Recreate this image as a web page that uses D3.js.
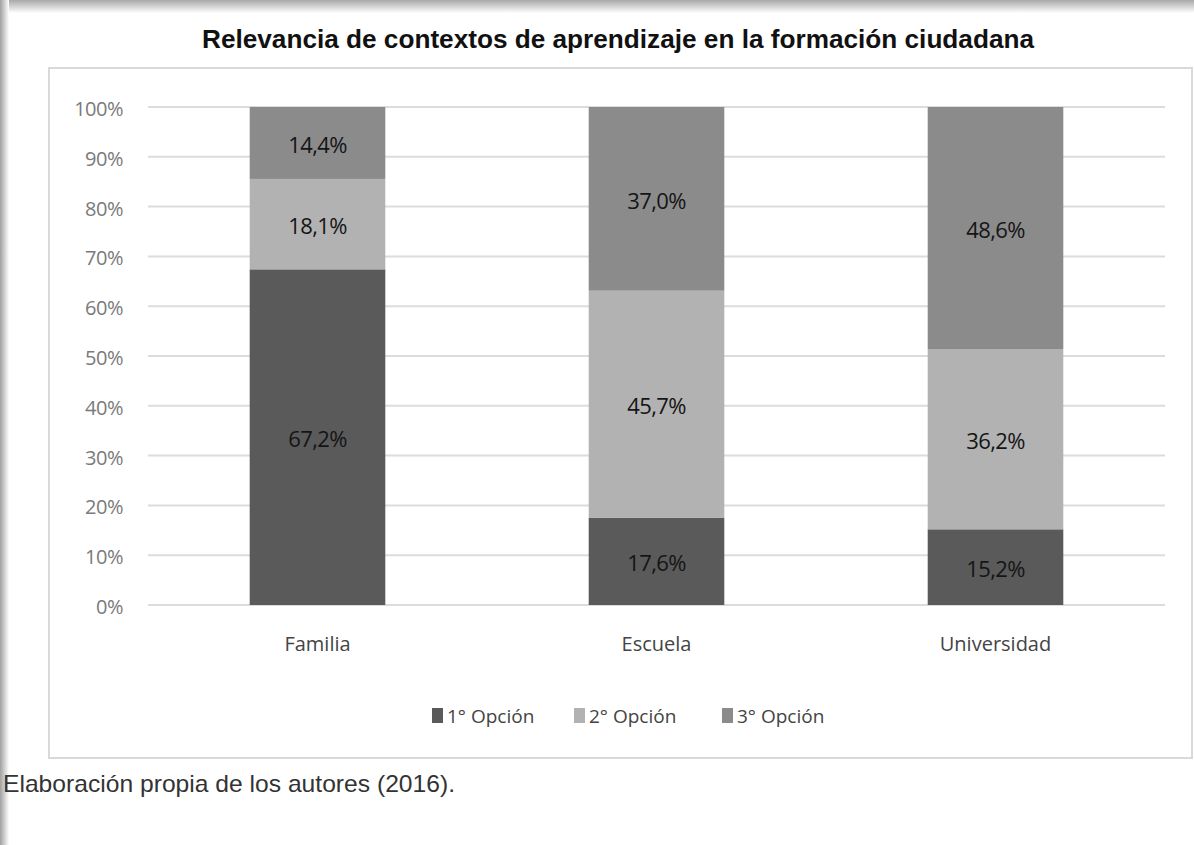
<!DOCTYPE html>
<html>
<head>
<meta charset="utf-8">
<script src="https://cdn.jsdelivr.net/npm/d3@7"></script>
<style>
  body { margin: 0; background: #fff; }
  svg { display: block; }
</style>
</head>
<body>
<div id="chart"></div>
<script>
var width = 1194;
var height = 845;

// data
var categories = ["Familia", "Escuela", "Universidad"];
var series = ["1° Opción", "2° Opción", "3° Opción"];
var primera = [67.2, 17.6, 15.2];
var segunda = [18.1, 45.7, 36.2];
var tercera = [14.4, 37.0, 48.6];
var yTicks = [0, 10, 20, 30, 40, 50, 60, 70, 80, 90, 100];
var colors = ["#5a5a5a", "#b2b2b2", "#8b8b8b"];

var svg = d3.select("#chart").append("svg")
    .attr("width", width)
    .attr("height", height);

var defs = svg.append("defs");
var gTop = defs.append("linearGradient").attr("id", "shTop").attr("x1", 0).attr("y1", 0).attr("x2", 0).attr("y2", 1);
gTop.append("stop").attr("offset", "0%").attr("stop-color", "#a8a8a8");
gTop.append("stop").attr("offset", "100%").attr("stop-color", "#ffffff");
var gLeft = defs.append("linearGradient").attr("id", "shLeft").attr("x1", 0).attr("y1", 0).attr("x2", 1).attr("y2", 0);
gLeft.append("stop").attr("offset", "0%").attr("stop-color", "#a0a0a0");
gLeft.append("stop").attr("offset", "100%").attr("stop-color", "#ffffff");

// page shadow
svg.append("rect").attr("x", 0).attr("y", 0).attr("width", width).attr("height", 13).attr("fill", "url(#shTop)");
svg.append("rect").attr("x", 0).attr("y", 0).attr("width", 9).attr("height", height).attr("fill", "url(#shLeft)");

// title
svg.append("text")
    .attr("x", 202).attr("y", 48)
    .attr("textLength", 832)
    .attr("lengthAdjust", "spacingAndGlyphs")
    .style("font-family", "'Liberation Sans', Arial, sans-serif")
    .style("font-weight", "bold")
    .style("font-size", "25px")
    .style("fill", "#111")
    .text("Relevancia de contextos de aprendizaje en la formación ciudadana");

// chart frame
svg.append("rect")
    .attr("x", 49).attr("y", 68)
    .attr("width", 1143).attr("height", 690)
    .attr("fill", "#fff")
    .attr("stroke", "#d9d9d9")
    .attr("stroke-width", 2);

var plot = { left: 148, right: 1165, top: 107, bottom: 605 };

var x = d3.scaleBand()
    .domain(categories)
    .range([plot.left, plot.right])
    .paddingInner(0.6)
    .paddingOuter(0.3);

var y = d3.scaleLinear()
    .domain([0, 100])
    .range([plot.bottom, plot.top]);

var tickFont = "'Open Sans', 'Noto Sans', sans-serif";

// gridlines
svg.append("g")
    .selectAll("line")
    .data(yTicks)
    .join("line")
    .attr("x1", plot.left).attr("x2", plot.right)
    .attr("y1", d => y(d)).attr("y2", d => y(d))
    .attr("stroke", "#dcdcdc")
    .attr("stroke-width", 2);

// y axis labels
var yAxis = d3.axisLeft(y).tickValues(yTicks).tickFormat(d => d + "%").tickSize(0).tickPadding(0);
var ya = svg.append("g").attr("transform", "translate(123,2)").call(yAxis);
ya.select(".domain").remove();
ya.selectAll("text")
    .style("font-family", tickFont)
    .style("font-size", "20px")
    .style("fill", "#7a7a7a")
    .attr("letter-spacing", "-0.5px");

// stacked, normalised to 100%
var rows = categories.map(function (c, i) {
    var vals = [primera[i], segunda[i], tercera[i]];
    var total = d3.sum(vals);
    return { cat: c, vals: vals, total: total };
});

var segs = [];
rows.forEach(function (r) {
    var acc = 0;
    r.vals.forEach(function (v, k) {
        var p0 = acc / r.total * 100;
        acc += v;
        var p1 = acc / r.total * 100;
        segs.push({ cat: r.cat, k: k, v: v, p0: p0, p1: p1 });
    });
});

svg.append("g")
    .selectAll("rect")
    .data(segs)
    .join("rect")
    .attr("x", d => x(d.cat))
    .attr("width", x.bandwidth())
    .attr("y", d => y(d.p1))
    .attr("height", d => y(d.p0) - y(d.p1))
    .attr("fill", d => colors[d.k]);

svg.append("g")
    .selectAll("text")
    .data(segs)
    .join("text")
    .attr("x", d => x(d.cat) + x.bandwidth() / 2)
    .attr("y", d => (y(d.p0) + y(d.p1)) / 2 + 10)
    .attr("text-anchor", "middle")
    .style("font-family", tickFont)
    .style("font-size", "22px")
    .style("fill", "#151515")
    .attr("letter-spacing", "-0.6px")
    .text(d => d.v.toFixed(1).replace(".", ",") + "%");

// x axis labels
var xAxis = d3.axisBottom(x).tickSize(0).tickPadding(0);
var xa = svg.append("g").attr("transform", "translate(0,637)").call(xAxis);
xa.select(".domain").remove();
xa.selectAll("text")
    .style("font-family", tickFont)
    .style("font-size", "20px")
    .style("fill", "#444");

// legend
var legendX = [432, 574, 722];
var lg = svg.append("g")
    .selectAll("g")
    .data(series)
    .join("g")
    .attr("transform", (d, i) => "translate(" + legendX[i] + ",723)");
lg.append("rect")
    .attr("x", 0).attr("y", -15)
    .attr("width", 11).attr("height", 15)
    .attr("fill", (d, i) => colors[i]);
lg.append("text")
    .attr("x", 15).attr("y", 0)
    .style("font-family", tickFont)
    .style("font-size", "19px")
    .style("fill", "#444")
    .text(d => d);

// source note
svg.append("text")
    .attr("x", 3).attr("y", 792)
    .attr("textLength", 452)
    .attr("lengthAdjust", "spacingAndGlyphs")
    .style("font-family", "'Liberation Sans', Arial, sans-serif")
    .style("font-size", "24px")
    .style("fill", "#333")
    .text("Elaboración propia de los autores (2016).");
</script>
</body>
</html>
